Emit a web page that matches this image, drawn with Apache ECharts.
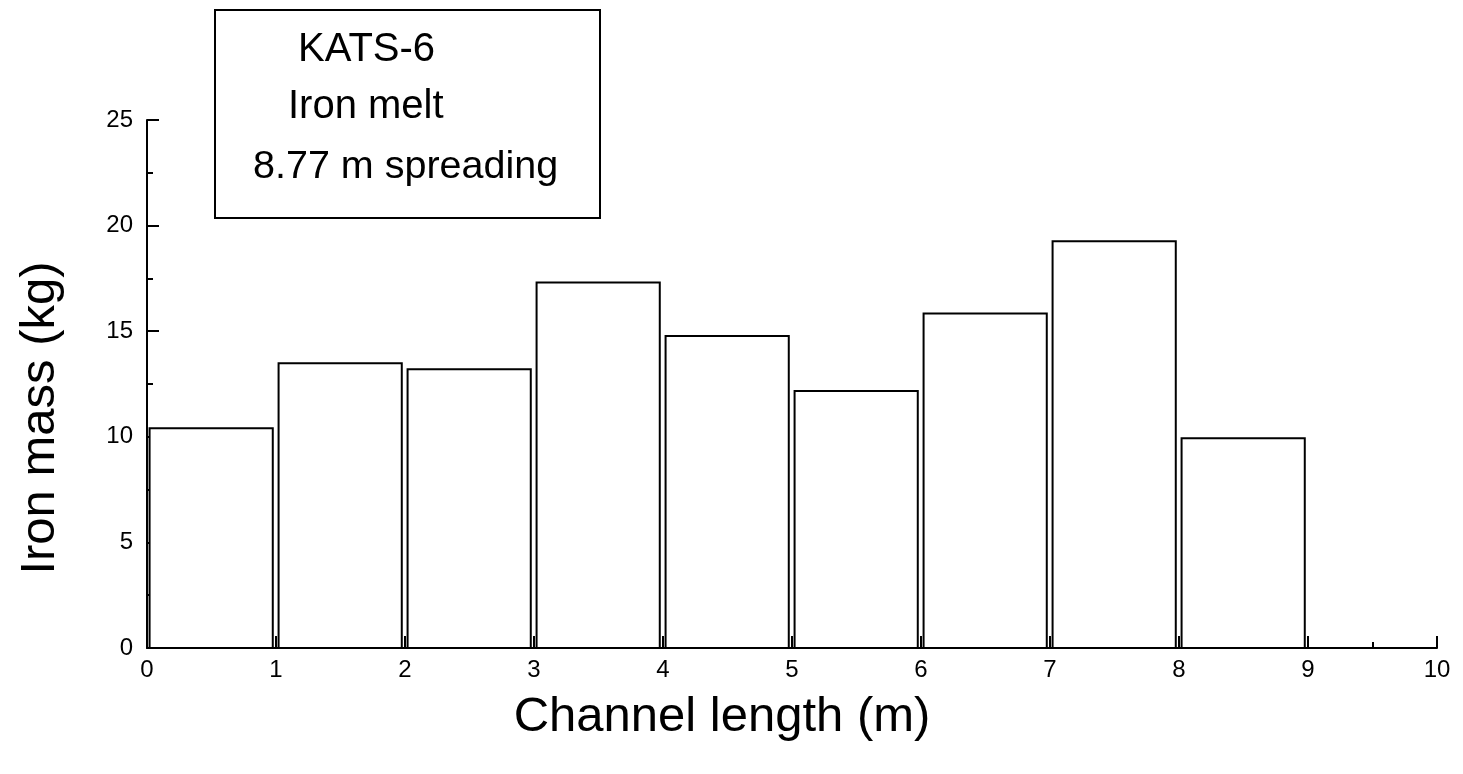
<!DOCTYPE html>
<html>
<head>
<meta charset="utf-8">
<title>KATS-6 iron mass along channel</title>
<script src="https://cdn.jsdelivr.net/npm/echarts@6/dist/echarts.min.js"></script>
<style>
  html, body { margin: 0; padding: 0; background: #fff; }
  #chart { width: 1463px; height: 774px; }
</style>
</head>
<body>
<div id="chart"></div>
<script>
// Channel segments (start position in m) and the iron mass collected in each
const segmentStart = [0, 1, 2, 3, 4, 5, 6, 7, 8];
const ironMass = [10.40, 13.48, 13.20, 17.30, 14.77, 12.17, 15.84, 19.26, 9.93];

// Axis ranges and tick steps
const xRange = [0, 10];
const xStep = 1;
const yRange = [0, 25];
const yStep = 5;

// Annotation box text
const boxLines = ['KATS-6', 'Iron melt', '8.77 m spreading'];
const xTitle = 'Channel length (m)';
const yTitle = 'Iron mass (kg)';

const FONT = '"Liberation Sans", Arial, sans-serif';

const chart = echarts.init(document.getElementById('chart'));

// Each segment is drawn as an outlined rectangle spanning most of its 1 m bin
function renderSegment(params, api) {
  const x0 = api.value(0);
  const v = api.value(1);
  const topLeft = api.coord([x0 + 0.02, v]);
  const bottomRight = api.coord([x0 + 0.975, 0]);
  return {
    type: 'rect',
    shape: {
      x: topLeft[0],
      y: topLeft[1],
      width: bottomRight[0] - topLeft[0],
      height: bottomRight[1] - topLeft[1]
    },
    style: { fill: '#ffffff', stroke: '#000000', lineWidth: 2 }
  };
}

const axisCommon = {
  axisLine: { show: true, onZero: false, lineStyle: { color: '#000', width: 2 } },
  axisTick: { show: true, inside: true, length: 12, lineStyle: { color: '#000', width: 2 } },
  minorTick: { show: true, splitNumber: 2, length: 6, lineStyle: { color: '#000', width: 2 } },
  splitLine: { show: false },
  minorSplitLine: { show: false },
  axisLabel: { color: '#000', fontSize: 24, fontFamily: FONT }
};

chart.setOption({
  animation: false,
  backgroundColor: '#ffffff',
  grid: {
    left: 147, right: 26, top: 120, bottom: 126,
    containLabel: false, outerBoundsMode: 'none'
  },
  xAxis: Object.assign({}, axisCommon, {
    type: 'value',
    min: xRange[0], max: xRange[1], interval: xStep,
    axisLabel: Object.assign({}, axisCommon.axisLabel, { margin: 10 })
  }),
  yAxis: Object.assign({}, axisCommon, {
    type: 'value',
    min: yRange[0], max: yRange[1], interval: yStep,
    axisLabel: Object.assign({}, axisCommon.axisLabel, { margin: 14 })
  }),
  series: [{
    type: 'custom',
    renderItem: renderSegment,
    encode: { x: 0, y: 1 },
    data: segmentStart.map((s, i) => [s, ironMass[i]]),
    z: 3
  }],
  graphic: [
    {
      type: 'rect',
      shape: { x: 215, y: 10, width: 385, height: 208 },
      style: { fill: '#ffffff', stroke: '#000', lineWidth: 2 },
      z: 10
    },
    {
      type: 'text', x: 298, y: 50, z: 11,
      style: { text: boxLines[0], font: '40px ' + FONT, fill: '#000', textAlign: 'left', textVerticalAlign: 'middle' }
    },
    {
      type: 'text', x: 288, y: 107, z: 11,
      style: { text: boxLines[1], font: '40px ' + FONT, fill: '#000', textAlign: 'left', textVerticalAlign: 'middle' }
    },
    {
      type: 'text', x: 253, y: 167, z: 11,
      style: { text: boxLines[2], font: '39.5px ' + FONT, fill: '#000', textAlign: 'left', textVerticalAlign: 'middle' }
    },
    {
      type: 'text', x: 722, y: 717, z: 11,
      style: { text: xTitle, font: '49px ' + FONT, fill: '#000', textAlign: 'center', textVerticalAlign: 'middle' }
    },
    {
      type: 'text', x: 40, y: 418, rotation: Math.PI / 2, z: 11,
      style: { text: yTitle, font: '49px ' + FONT, fill: '#000', textAlign: 'center', textVerticalAlign: 'middle' }
    }
  ]
});
</script>
</body>
</html>
